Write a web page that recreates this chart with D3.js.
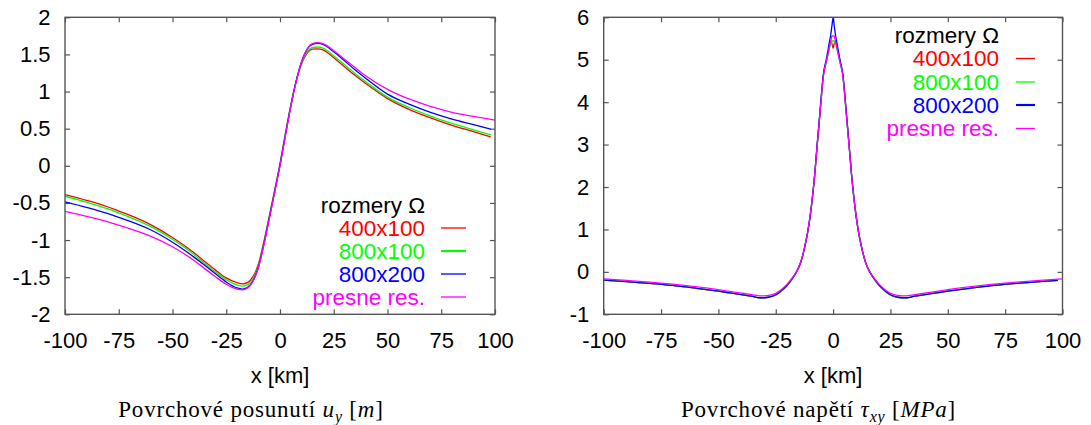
<!DOCTYPE html>
<html><head><meta charset="utf-8">
<script src="https://cdn.jsdelivr.net/npm/d3@7"></script>
<style>
body{margin:0;background:#fff;}
svg{display:block;}
.tick text{font-family:"Liberation Sans",Arial,sans-serif;font-size:22px;fill:#000;}
.lbl{font-family:"Liberation Sans",Arial,sans-serif;font-size:22px;fill:#000;}
.leg{font-family:"Liberation Sans",Arial,sans-serif;font-size:22.5px;}
.cap{font-family:"Liberation Serif","Times New Roman",serif;font-size:23px;fill:#000;letter-spacing:0.8px;}
</style></head><body>
<svg id="chart" width="1091" height="425"></svg>
<script>
// ---------- shared ----------
const xTicks = [-100,-75,-50,-25,0,25,50,75,100];
const xTickLabels = ["-100","-75","-50","-25","0","25","50","75","100"];
const seriesNames = ["400x100","800x100","800x200","presne res."];
const seriesColors = ["#ff0000","#00ff00","#0000ff","#ff00ff"];
const legendTitle = "rozmery \u03A9";

// ---------- left panel: surface displacement u_y [m] ----------
const uyTicks = [-2,-1.5,-1,-0.5,0,0.5,1,1.5,2];
const uyTickLabels = ["-2","-1.5","-1","-0.5","0","0.5","1","1.5","2"];
const xU_num = [-100,-90,-80,-75,-70,-60,-50,-40,-35,-30,-25,-20,-17.5,-15,-12.5,-10,-7.5,-5,-2.5,0,2.5,5,7.5,10,12.5,15,17.5,20,25,30,35,40,50,60,70,80,90,98];
const xU_exact = [-100,-90,-80,-75,-70,-60,-50,-40,-35,-30,-25,-20,-17.5,-15,-12.5,-10,-7.5,-5,-2.5,0,2.5,5,7.5,10,12.5,15,17.5,20,25,30,35,40,50,60,70,80,90,100];
const uy400x100 = [-0.387,-0.465,-0.555,-0.61,-0.665,-0.795,-0.965,-1.17,-1.29,-1.405,-1.51,-1.575,-1.59,-1.57,-1.49,-1.32,-1.02,-0.68,-0.33,0.03,0.43,0.81,1.13,1.37,1.51,1.57,1.576,1.56,1.455,1.335,1.215,1.105,0.905,0.76,0.645,0.545,0.46,0.39];
const uy800x100 = [-0.41,-0.49,-0.58,-0.635,-0.69,-0.82,-0.99,-1.195,-1.315,-1.43,-1.535,-1.605,-1.62,-1.60,-1.515,-1.34,-1.04,-0.69,-0.335,0.02,0.43,0.815,1.14,1.385,1.53,1.59,1.60,1.585,1.48,1.36,1.24,1.13,0.925,0.785,0.67,0.57,0.485,0.415];
const uy800x200 = [-0.486,-0.56,-0.645,-0.695,-0.745,-0.865,-1.03,-1.23,-1.34,-1.455,-1.565,-1.645,-1.66,-1.635,-1.545,-1.36,-1.055,-0.705,-0.35,0.01,0.41,0.80,1.14,1.40,1.565,1.635,1.65,1.635,1.535,1.415,1.29,1.175,0.965,0.83,0.72,0.63,0.555,0.495];
const uyExact = [-0.613,-0.68,-0.755,-0.80,-0.845,-0.95,-1.09,-1.275,-1.385,-1.495,-1.595,-1.66,-1.67,-1.645,-1.555,-1.37,-1.07,-0.72,-0.36,0.0,0.40,0.79,1.13,1.40,1.565,1.645,1.66,1.645,1.55,1.435,1.32,1.21,1.03,0.90,0.80,0.72,0.665,0.616];

// ---------- right panel: surface stress tau_xy [MPa] ----------
const tauTicks = [-1,0,1,2,3,4,5,6];
const tauTickLabels = ["-1","0","1","2","3","4","5","6"];
const xT_num = [-100,-90,-80,-70,-60,-50,-45,-40,-35,-32,-30,-27.5,-25,-22.5,-20,-17.5,-16,-15,-14,-12.5,-11,-10,-9,-8,-7,-6,-5,-4.3,-3,-2,-1,-0.5,0,0.5,1,2,3,4.3,5,6,7,8,9,10,11,12.5,14,15,16,17.5,20,22.5,25,27.5,30,32,35,40,45,50,60,70,80,90,98];
const xT_exact = [-100,-90,-80,-70,-60,-50,-45,-40,-35,-32,-30,-27.5,-25,-22.5,-20,-17.5,-16,-15,-14,-12.5,-11,-10,-9,-8,-7,-6,-5,-4.3,-3,-2,-1,-0.5,0,0.5,1,2,3,4.3,5,6,7,8,9,10,11,12.5,14,15,16,17.5,20,22.5,25,27.5,30,32,35,40,45,50,60,70,80,90,100];
const tau400x100 = [-0.195,-0.23,-0.27,-0.32,-0.385,-0.455,-0.495,-0.535,-0.58,-0.61,-0.61,-0.59,-0.545,-0.45,-0.32,-0.14,-0.01,0.10,0.24,0.55,0.95,1.3,1.75,2.28,2.93,3.55,4.18,4.6,4.95,5.2,5.45,5.38,5.27,5.38,5.45,5.2,4.95,4.62,4.22,3.6,2.98,2.33,1.8,1.35,0.98,0.57,0.25,0.11,0.0,-0.13,-0.31,-0.445,-0.545,-0.59,-0.61,-0.61,-0.58,-0.535,-0.495,-0.455,-0.385,-0.32,-0.27,-0.23,-0.20];
const tau800x100 = [-0.195,-0.23,-0.27,-0.32,-0.385,-0.455,-0.495,-0.535,-0.58,-0.61,-0.61,-0.59,-0.545,-0.45,-0.32,-0.14,-0.01,0.10,0.24,0.55,0.96,1.31,1.76,2.3,2.95,3.57,4.2,4.6,4.93,5.18,5.38,5.43,5.45,5.43,5.38,5.18,4.93,4.6,4.2,3.57,2.95,2.3,1.76,1.31,0.96,0.55,0.24,0.10,-0.01,-0.14,-0.32,-0.45,-0.545,-0.59,-0.61,-0.61,-0.58,-0.535,-0.495,-0.455,-0.385,-0.32,-0.27,-0.23,-0.20];
const tau800x200 = [-0.195,-0.23,-0.27,-0.32,-0.385,-0.455,-0.495,-0.535,-0.58,-0.61,-0.61,-0.59,-0.54,-0.44,-0.31,-0.13,0.0,0.11,0.25,0.56,0.96,1.32,1.77,2.32,2.98,3.6,4.25,4.64,5.0,5.3,5.6,5.8,6.0,5.8,5.6,5.3,5.0,4.64,4.25,3.6,2.98,2.32,1.77,1.32,0.96,0.56,0.25,0.11,0.0,-0.13,-0.31,-0.44,-0.54,-0.59,-0.61,-0.61,-0.58,-0.535,-0.495,-0.455,-0.385,-0.32,-0.27,-0.23,-0.20];
const tauExact = [-0.165,-0.20,-0.24,-0.29,-0.35,-0.42,-0.46,-0.50,-0.54,-0.565,-0.565,-0.55,-0.505,-0.415,-0.29,-0.12,0.0,0.11,0.25,0.56,0.97,1.33,1.78,2.3,2.95,3.55,4.2,4.6,4.95,5.2,5.45,5.56,5.56,5.56,5.45,5.2,4.95,4.6,4.2,3.55,2.95,2.3,1.78,1.33,0.97,0.56,0.25,0.11,0.0,-0.12,-0.29,-0.415,-0.505,-0.55,-0.565,-0.565,-0.54,-0.50,-0.46,-0.42,-0.35,-0.29,-0.24,-0.20,-0.165];

const svg = d3.select("#chart");
const frameColor = "#555";

function zip(xs, ys){ return xs.map((x,i)=>[x, ys[i]]); }

function panel(o){
  const x = d3.scaleLinear().domain([-100,100]).range([o.x0, o.x1]);
  const y = d3.scaleLinear().domain(o.yDomain).range([o.y1, o.y0]);
  const g = svg.append("g");
  const clipId = "clip" + o.id;
  svg.append("clipPath").attr("id", clipId).append("rect")
    .attr("x", o.x0).attr("y", o.y0 - 1).attr("width", o.x1 - o.x0).attr("height", o.y1 - o.y0 + 2);

  const styleAxis = sel => { sel.select(".domain").remove(); sel.selectAll(".tick line").attr("stroke", frameColor).attr("stroke-width", 1.2); };

  g.append("g").attr("transform", `translate(0,${o.y1})`)
    .call(d3.axisBottom(x).tickValues(xTicks).tickFormat((d,i)=>xTickLabels[i]).tickSizeInner(-5).tickSizeOuter(0).tickPadding(18))
    .call(styleAxis);
  g.append("g").attr("transform", `translate(0,${o.y0})`)
    .call(d3.axisTop(x).tickValues(xTicks).tickFormat("").tickSizeInner(-5).tickSizeOuter(0))
    .call(styleAxis);
  g.append("g").attr("transform", `translate(${o.x0},0)`)
    .call(d3.axisLeft(y).tickValues(o.yTicks).tickFormat((d,i)=>o.yLabels[i]).tickSizeInner(-5).tickSizeOuter(0).tickPadding(14.5))
    .call(styleAxis);
  g.append("g").attr("transform", `translate(${o.x1},0)`)
    .call(d3.axisRight(y).tickValues(o.yTicks).tickFormat("").tickSizeInner(-5).tickSizeOuter(0))
    .call(styleAxis);
  g.selectAll(".tick text").attr("fill", "#000");

  const line = d3.line().x(d=>x(d[0])).y(d=>y(d[1])).curve(d3.curveMonotoneX);
  const cg = g.append("g").attr("clip-path", `url(#${clipId})`);
  o.series.forEach((s,i)=>{
    cg.append("path").datum(zip(s.x, s.v)).attr("d", line)
      .attr("fill","none").attr("stroke", seriesColors[i]).attr("stroke-width", 1.3);
  });

  g.append("rect").attr("x", o.x0).attr("y", o.y0).attr("width", o.x1 - o.x0).attr("height", o.y1 - o.y0)
    .attr("fill","none").attr("stroke", frameColor).attr("stroke-width", 1.4);

  // legend
  const L = o.legend;
  g.append("text").attr("class","leg").attr("x", L.tx).attr("y", L.rows[0]).attr("dy","0.35em")
    .attr("text-anchor","end").attr("fill","#000").text(legendTitle);
  seriesNames.forEach((n,i)=>{
    g.append("text").attr("class","leg").attr("x", L.tx).attr("y", L.rows[i+1]).attr("dy","0.35em")
      .attr("text-anchor","end").attr("fill", seriesColors[i]).text(n);
    g.append("line").attr("x1", L.l0).attr("x2", L.l1).attr("y1", L.rows[i+1]).attr("y2", L.rows[i+1])
      .attr("stroke", seriesColors[i]).attr("stroke-width", i === L.thick ? 2.2 : 1.3);
  });

  // x label
  g.append("text").attr("class","lbl").attr("x", (o.x0+o.x1)/2).attr("y", 383)
    .attr("text-anchor","middle").text("x [km]");

  // caption
  const cap = g.append("text").attr("class","cap").attr("x", o.capX).attr("y", 417).attr("text-anchor","middle");
  o.caption(cap);
}

panel({
  id: "L", x0: 65, x1: 495, y0: 17.3, y1: 314.3, yDomain: [-2,2],
  yTicks: uyTicks, yLabels: uyTickLabels,
  series: [
    {x: xU_num, v: uy400x100},
    {x: xU_num, v: uy800x100},
    {x: xU_num, v: uy800x200},
    {x: xU_exact, v: uyExact}
  ],
  legend: {tx: 425, l0: 441, l1: 466, rows: [205, 228, 251, 274, 297], thick: 1},
  capX: 251,
  caption: t => {
    t.append("tspan").text("Povrchov\u00e9 posunut\u00ed ");
    t.append("tspan").attr("font-style","italic").text("u");
    t.append("tspan").attr("font-style","italic").attr("font-size","16px").attr("dy","5").text("y");
    t.append("tspan").attr("dy","-5").text(" [");
    t.append("tspan").attr("font-style","italic").text("m");
    t.append("tspan").text("]");
  }
});

panel({
  id: "R", x0: 603.7, x1: 1062.5, y0: 17.3, y1: 314.3, yDomain: [-1,6],
  yTicks: tauTicks, yLabels: tauTickLabels,
  series: [
    {x: xT_num, v: tau400x100},
    {x: xT_num, v: tau800x100},
    {x: xT_num, v: tau800x200},
    {x: xT_exact, v: tauExact}
  ],
  legend: {tx: 999, l0: 1016, l1: 1035, rows: [35, 58.5, 82, 105, 128.5], thick: 2},
  capX: 818.5,
  caption: t => {
    t.append("tspan").text("Povrchov\u00e9 nap\u011bt\u00ed ");
    t.append("tspan").attr("font-style","italic").text("\u03c4");
    t.append("tspan").attr("font-style","italic").attr("font-size","16px").attr("dy","5").text("xy");
    t.append("tspan").attr("dy","-5").text(" [");
    t.append("tspan").attr("font-style","italic").text("MPa");
    t.append("tspan").text("]");
  }
});
</script>
</body></html>
